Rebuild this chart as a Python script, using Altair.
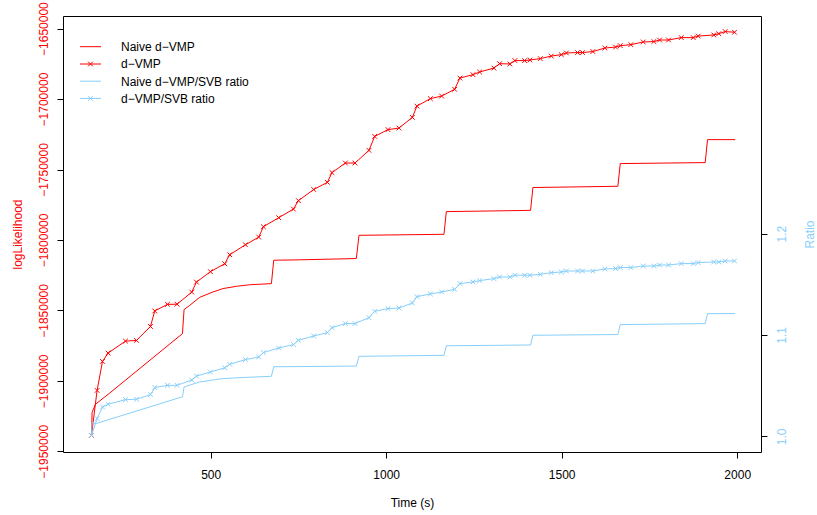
import altair as alt
import pandas as pd

RED = "#FF0000"
BLUE = "#87CEFA"
FONT = "Liberation Sans"
XPATH = "M -1 -1 L 1 1 M -1 1 L 1 -1"

# ---- d-VMP runs (with markers) ----
t_dvmp = [160.6, 176.5, 191.9, 207.9, 257.4, 288.7, 328.6, 340.8, 377.0, 404.3,
          446.2, 459.6, 499.4, 540.1, 554.4, 599.1, 637.0, 650.3, 693.9, 735.8,
          750.0, 793.6, 832.6, 845.7, 883.8, 911.2, 951.0, 967.3, 1005.1, 1036.4,
          1074.6, 1087.7, 1125.9, 1158.0, 1195.0, 1210.1, 1247.2, 1266.2, 1306.9, 1323.2,
          1352.5, 1366.7, 1394.4, 1409.5, 1439.1, 1470.4, 1498.9, 1513.4, 1545.3, 1559.5,
          1588.8, 1623.0, 1653.5, 1666.9, 1697.0, 1732.3, 1762.5, 1778.8, 1804.4, 1840.6,
          1874.7, 1888.9, 1933.3, 1947.6, 1965.8, 1992.3]
ll_dvmp = [-1938700, -1906800, -1886200, -1880300, -1871800, -1871300, -1861400, -1850400, -1845700, -1845600,
           -1837000, -1829900, -1822500, -1816900, -1810500, -1803400, -1798000, -1790600, -1784200, -1778100,
           -1772100, -1764200, -1759100, -1752200, -1745400, -1745400, -1736400, -1726500, -1721700, -1720600,
           -1713000, -1705000, -1699700, -1697900, -1693100, -1685100, -1682700, -1680800, -1678000, -1674900,
           -1675100, -1672700, -1672700, -1672300, -1671300, -1669500, -1668500, -1667300, -1667000, -1667000,
           -1666300, -1663800, -1663100, -1662100, -1661400, -1659500, -1659200, -1658100, -1658100, -1656400,
           -1656400, -1655300, -1654500, -1653600, -1652100, -1652600]
ratio_dvmp = [1.001, 1.0175, 1.0289, 1.0316, 1.0362, 1.0365, 1.0411, 1.0481, 1.0503, 1.0503,
              1.0556, 1.0594, 1.0634, 1.0676, 1.0710, 1.0757, 1.0782, 1.0826, 1.0871, 1.0905,
              1.0947, 1.0990, 1.1023, 1.1072, 1.1112, 1.1112, 1.1171, 1.1233, 1.1260, 1.1266,
              1.1315, 1.1378, 1.1404, 1.1424, 1.1450, 1.1507, 1.1522, 1.1536, 1.1556, 1.1572,
              1.1572, 1.1589, 1.1589, 1.1589, 1.1598, 1.1615, 1.1621, 1.1631, 1.1631, 1.1631,
              1.1631, 1.1651, 1.1655, 1.1665, 1.1665, 1.1680, 1.1680, 1.1690, 1.1690, 1.1704,
              1.1704, 1.1714, 1.1720, 1.1720, 1.1730, 1.1730]

# ---- Naive d-VMP runs (lines only) ----
t_naive = [160.6, 162.3, 172.0, 212.7, 419.7, 424.3, 440.5, 469.0, 506.8, 535.3,
           573.5, 611.3, 673.1, 679.7, 753.7, 915.1, 922.5, 1164.6, 1171.4, 1411.4,
           1418.0, 1660.0, 1666.9, 1908.9, 1915.4, 1994.3]
ll_naive = [-1938700, -1922300, -1916600, -1908600, -1866500, -1849400, -1846400, -1840700, -1836900, -1834500,
            -1832900, -1831800, -1831000, -1814400, -1814100, -1813200, -1796700, -1796000, -1779900, -1779000,
            -1762800, -1761900, -1745800, -1745100, -1728800, -1728800]
ratio_naive = [1.001, 1.014, 1.0125, 1.0168, 1.0390, 1.0486, 1.0505, 1.0536, 1.0556, 1.0569,
               1.0577, 1.0583, 1.0592, 1.0686, 1.0688, 1.0693, 1.0789, 1.0799, 1.0893, 1.0901,
               1.0997, 1.1004, 1.1102, 1.1112, 1.1210, 1.1211]

# ---- axis ticks ----
x_ticks = [500, 1000, 1500, 2000]
ll_ticks = [-1950000, -1900000, -1850000, -1800000, -1750000, -1700000, -1650000]
ratio_ticks = [1.0, 1.1, 1.2]

# ---- legend entries ----
leg_labels = ["Naive d\u2212VMP", "d\u2212VMP", "Naive d\u2212VMP/SVB ratio", "d\u2212VMP/SVB ratio"]
leg_colors = [RED, RED, BLUE, BLUE]
leg_marker = [False, True, False, True]

dvmp = pd.DataFrame({"t": t_dvmp, "ll": ll_dvmp, "ratio": ratio_dvmp})
naive = pd.DataFrame({"t": t_naive, "ll": ll_naive, "ratio": ratio_naive})

W, H = 698, 436

x_enc = alt.X(
    "t:Q",
    scale=alt.Scale(domain=[79.4, 2067.8], nice=False, zero=False),
    axis=alt.Axis(values=x_ticks, format="d", title="Time (s)", tickSize=6,
                  labelPadding=11, labelFlush=False, labelOverlap=False,
                  titleX=W / 2, titleY=54, titleAlign="center", titleBaseline="alphabetic"),
)

y_ll = alt.Y(
    "ll:Q",
    scale=alt.Scale(domain=[-1950490, -1641060], nice=False, zero=False),
    axis=alt.Axis(orient="left", values=ll_ticks, format="d", title="logLikelihood",
                  tickSize=6, labelAngle=270, labelAlign="center", labelBaseline="alphabetic",
                  labelPadding=10, labelColor=RED, titleColor=RED, labelFlush=False,
                  labelOverlap=False, titleAngle=270, titleX=-42, titleY=H / 2,
                  titleAlign="center", titleBaseline="alphabetic"),
)

y_r = alt.Y(
    "ratio:Q",
    scale=alt.Scale(domain=[0.98451, 1.4147], nice=False, zero=False),
    axis=alt.Axis(orient="right", values=ratio_ticks, format=".1f", title="Ratio",
                  tickSize=6, labelAngle=270, labelAlign="center", labelBaseline="top",
                  labelPadding=9, labelColor=BLUE, titleColor=BLUE, labelFlush=False,
                  labelOverlap=False, titleAngle=270, titleX=52.5, titleY=H / 2,
                  titleAlign="center", titleBaseline="alphabetic"),
)

left = alt.layer(
    alt.Chart(naive).mark_line(color=RED, strokeWidth=1).encode(x=x_enc, y=y_ll),
    alt.Chart(dvmp).mark_line(color=RED, strokeWidth=1).encode(x=x_enc, y=y_ll),
    alt.Chart(dvmp).mark_point(shape=XPATH, size=22, filled=False, color=RED,
                               strokeWidth=1, opacity=1).encode(x=x_enc, y=y_ll),
)

right = alt.layer(
    alt.Chart(naive).mark_line(color=BLUE, strokeWidth=1).encode(x=x_enc, y=y_r),
    alt.Chart(dvmp).mark_line(color=BLUE, strokeWidth=1).encode(x=x_enc, y=y_r),
    alt.Chart(dvmp).mark_point(shape=XPATH, size=22, filled=False, color=BLUE,
                               strokeWidth=1, opacity=1).encode(x=x_enc, y=y_r),
)

# legend (layout in pixels inside the plot area)
row_y = [30.7, 48.0, 65.2, 82.4]
leg = pd.DataFrame({
    "label": leg_labels, "col": leg_colors, "marker": leg_marker,
    "y": row_y, "x1": [17] * 4, "x2": [38] * 4, "xm": [27.5] * 4,
    "xt": [58] * 4, "yt": [v + 4.3 for v in row_y],
})
leg_rule = alt.Chart(leg).mark_rule(strokeWidth=1).encode(
    x=alt.X("x1:Q", scale=None), x2="x2:Q", y=alt.Y("y:Q", scale=None),
    color=alt.Color("col:N", scale=None))
leg_pts = alt.Chart(leg).transform_filter("datum.marker").mark_point(
    shape=XPATH, size=22, filled=False, strokeWidth=1, opacity=1).encode(
    x=alt.X("xm:Q", scale=None), y=alt.Y("y:Q", scale=None),
    color=alt.Color("col:N", scale=None))
leg_text = alt.Chart(leg).mark_text(align="left", baseline="alphabetic", font=FONT,
                                    fontSize=12, color="black").encode(
    x=alt.X("xt:Q", scale=None), y=alt.Y("yt:Q", scale=None), text="label:N")

chart = alt.layer(left, right, leg_rule, leg_pts, leg_text).resolve_scale(
    y="independent"
).properties(
    width=W, height=H,
    padding={"left": 63, "top": 16, "right": 56, "bottom": 63},
    autosize=alt.AutoSizeParams(type="none"),
    background="white",
).configure_view(
    stroke="black", strokeWidth=1
).configure_axis(
    domain=False, grid=False, tickColor="black", tickWidth=1,
    labelFont=FONT, labelFontSize=12, labelColor="black",
    titleFont=FONT, titleFontSize=12, titleFontWeight="normal", titleColor="black",
)

chart.save("out.html", embed_options={"renderer": "svg", "actions": False})
